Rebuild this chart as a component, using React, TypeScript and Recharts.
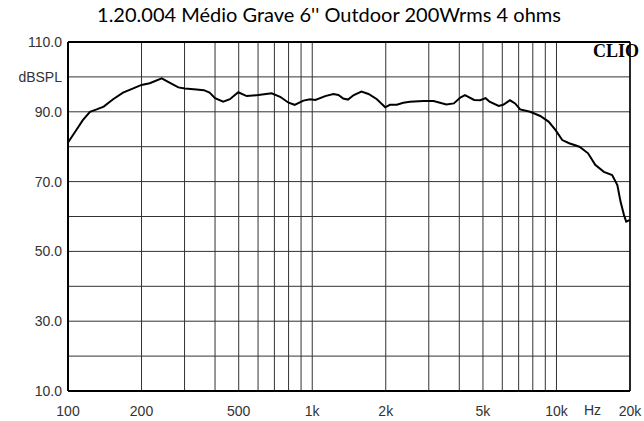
import { LineChart, Line, XAxis, YAxis, CartesianGrid } from 'recharts';

// frequency response
const FREQ = [
  100, 107, 115, 123, 131, 140, 153, 168, 185, 200, 216, 242, 257, 283, 301, 336, 360, 380,
  400, 432, 460, 498, 539, 602, 682, 739, 800, 847, 920, 980, 1030, 1130, 1220, 1280, 1340,
  1400, 1480, 1590, 1700, 1840, 1990, 2080, 2220, 2360, 2510, 2850, 3140, 3540, 3800, 4040,
  4220, 4600, 4870, 5130, 5320, 5800, 6050, 6450, 6770, 7100, 7800, 8580, 9280, 9900, 10560,
  11270, 12420, 13470, 14410, 15630, 16900, 17750, 18300, 18900, 19300, 20000,
];
const SPL = [
  81.2, 84.3, 87.6, 90.0, 90.7, 91.5, 93.6, 95.5, 96.7, 97.7, 98.2, 99.6, 98.6, 97.0, 96.7, 96.4, 96.2, 95.5,
  93.9, 92.9, 93.6, 95.6, 94.5, 94.8, 95.3, 94.3, 92.6, 92.0, 93.2, 93.6, 93.4, 94.5, 95.1, 94.8, 93.8,
  93.5, 94.8, 95.8, 95.1, 93.6, 91.3, 92.0, 92.0, 92.6, 92.9, 93.1, 93.1, 92.1, 92.4, 94.1,
  94.8, 93.4, 93.3, 93.9, 92.9, 91.7, 92.0, 93.3, 92.4, 90.7, 90.0, 88.8, 87.2, 84.8, 81.9,
  81.0, 80.0, 78.1, 74.8, 72.8, 71.9, 69.0, 64.2, 60.4, 58.5, 59.0,
];

const X_GRID = [
  100, 200, 300, 400, 500, 600, 700, 800, 900,
  1000, 2000, 3000, 4000, 5000, 6000, 7000, 8000, 9000,
  10000, 20000,
];
const X_LABELS: Record<number, string> = {
  100: '100', 200: '200', 500: '500', 1000: '1k', 2000: '2k', 5000: '5k', 10000: '10k', 20000: '20k',
};
const Y_GRID = [10, 20, 30, 40, 50, 60, 70, 80, 90, 100, 110];
const Y_LABELS: Record<number, string> = {
  110: '110.0', 100: 'dBSPL', 90: '90.0', 70: '70.0', 50: '50.0', 30: '30.0', 10: '10.0',
};
const Y_MINOR = [
  12, 14, 16, 18, 22, 24, 26, 28, 32, 34, 36, 38, 42, 44, 46, 48, 52, 54, 56, 58,
  62, 64, 66, 68, 72, 74, 76, 78, 82, 84, 86, 88, 92, 94, 96, 98, 102, 104, 106, 108,
];

const TITLE = "1.20.004 Médio Grave 6'' Outdoor 200Wrms 4 ohms";

const data = FREQ.map((f, i) => ({ f, spl: SPL[i] }));

const labelFont = { fontFamily: '"Liberation Sans", Arial, sans-serif', fontSize: 14, fill: '#333' };

const XTick = ({ x, y, payload }: any) => {
  const label = X_LABELS[payload.value];
  if (!label) return <g />;
  return (
    <text x={x} y={y + 25} textAnchor="middle" {...labelFont}>
      {label}
    </text>
  );
};

const YTick = ({ x, y, payload }: any) => {
  const label = Y_LABELS[payload.value];
  if (!label) return <g />;
  return (
    <text x={x - 6} y={y} dy="0.36em" textAnchor="end" {...labelFont}>
      {label}
    </text>
  );
};

const NoTick = () => <g />;

const border = { stroke: '#000', strokeWidth: 2 };

export default function App() {
  return (
    <div style={{ position: 'absolute', left: 0, top: 0, width: 644, height: 421, background: '#fff' }}>
      <LineChart width={644} height={421} data={data} margin={{ top: 0, right: 0, bottom: 0, left: 0 }}>
        <CartesianGrid stroke="#333" strokeWidth={1} />
        <XAxis
          dataKey="f"
          type="number"
          scale="log"
          domain={[100, 20000]}
          ticks={X_GRID}
          interval={0}
          height={30}
          tickSize={0}
          tickMargin={0}
          tickLine={false}
          axisLine={border}
          tick={XTick}
          allowDataOverflow
        />
        <XAxis
          xAxisId="top"
          orientation="top"
          dataKey="f"
          type="number"
          scale="log"
          domain={[100, 20000]}
          height={42}
          tick={false}
          tickLine={false}
          axisLine={border}
        />
        <YAxis
          type="number"
          domain={[10, 110]}
          ticks={Y_GRID}
          interval={0}
          width={68}
          tickSize={0}
          tickMargin={0}
          tickLine={false}
          axisLine={border}
          tick={YTick}
        />
        <YAxis
          yAxisId="minorLeft"
          orientation="left"
          mirror
          type="number"
          domain={[10, 110]}
          ticks={Y_MINOR}
          interval={0}
          tickSize={4}
          axisLine={false}
          tickLine={{ stroke: '#000' }}
          tick={NoTick}
        />
        <YAxis
          yAxisId="right"
          orientation="right"
          type="number"
          domain={[10, 110]}
          ticks={Y_MINOR}
          interval={0}
          width={14}
          tickSize={4}
          axisLine={{ stroke: '#000', strokeWidth: 1.5 }}
          tickLine={{ stroke: '#000' }}
          tick={NoTick}
        />
        <Line
          dataKey="spl"
          type="linear"
          stroke="#000"
          strokeWidth={2}
          dot={false}
          isAnimationActive={false}
        />
      </LineChart>
      <div
        style={{
          position: 'absolute',
          left: 0,
          top: 2,
          width: 658,
          textAlign: 'center',
          fontFamily: 'Lato, "Open Sans", sans-serif',
          fontSize: 20,
          color: '#000',
          whiteSpace: 'nowrap',
        }}
      >
        {TITLE}
      </div>
      <div
        style={{
          position: 'absolute',
          left: 593,
          top: 41,
          fontFamily: '"Liberation Serif", "Times New Roman", serif',
          fontWeight: 'bold',
          fontSize: 18,
          color: '#000',
        }}
      >
        CLIO
      </div>
      <div
        style={{
          position: 'absolute',
          left: 584,
          top: 402,
          fontFamily: '"Liberation Sans", Arial, sans-serif',
          fontSize: 14,
          color: '#333',
        }}
      >
        Hz
      </div>
    </div>
  );
}
